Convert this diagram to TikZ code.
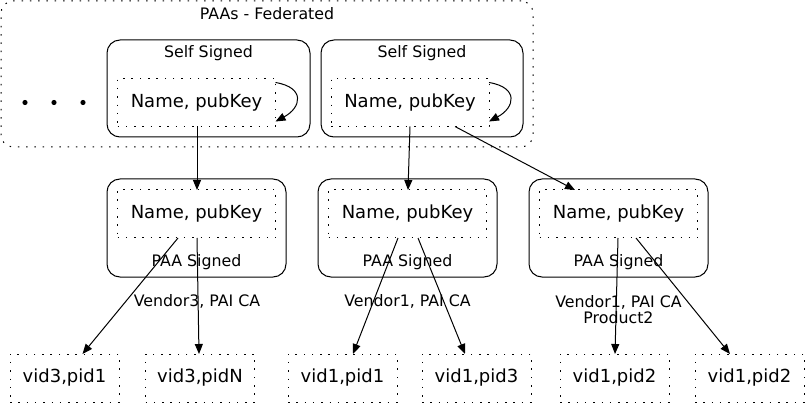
\documentclass[tikz,border=0pt]{standalone}
\usepackage{fontspec}
\setmainfont{DejaVu Sans}
\usetikzlibrary{arrows.meta}
\begin{document}
\begin{tikzpicture}[x=1pt,y=-1pt,
  every node/.style={inner sep=0pt, outer sep=0pt},
  dotbox/.style={draw, line width=1pt, dash pattern=on 1.5pt off 6.8pt},
  fedbox/.style={dotbox, rounded corners=12pt},
  solidbox/.style={draw, line width=1pt, rounded corners=13pt},
  keybox/.style={dotbox, minimum width=158pt, minimum height=48pt, font=\fontsize{18}{20}\selectfont},
  leafbox/.style={dotbox, minimum width=109pt, minimum height=48pt, font=\fontsize{18}{20}\selectfont},
  lbl/.style={font=\fontsize{15.8}{17.5}\selectfont, align=center},
  arr/.style={line width=1pt, -{Triangle[length=10pt,width=8pt]}}
]
\useasboundingbox (0,0) rectangle (805,403);

% outer federated cluster
\node[fedbox, minimum width=532pt, minimum height=146pt] (fed) at (267,74) {};
\node[lbl] (fedl) at (267,13.5) {PAAs - Federated};

% dots
\fill (25,102.5) circle (2.6pt);
\fill (54,102.5) circle (2.6pt);
\fill (83,102.5) circle (2.6pt);

% self signed boxes
\node[solidbox, minimum width=203pt, minimum height=97pt] (s1) at (208.5,88.5) {};
\node[lbl] (s1l) at (208.5,53) {Self Signed};
\node[keybox] (k1) at (196.5,102.5) {Name, pubKey};

\node[solidbox, minimum width=202pt, minimum height=97pt] (s2) at (422,88.5) {};
\node[lbl] (s2l) at (422,53) {Self Signed};
\node[keybox] (k2) at (410,102.5) {Name, pubKey};

% self loops
\draw[arr] ([yshift=-4pt]k1.north east) .. controls +(30,5) and +(26,-14) .. ([yshift=5pt]k1.south east);
\draw[arr] ([yshift=-4pt]k2.north east) .. controls +(30,5) and +(26,-14) .. ([yshift=5pt]k2.south east);

% PAA signed boxes
\foreach \n/\cx in {1/196.5, 2/407.5, 3/618.5}{
  \node[solidbox, minimum width=179pt, minimum height=98pt] (p\n) at (\cx,228) {};
  \node[lbl] (p\n l) at (\cx,262) {PAA Signed};
  \node[keybox] (m\n) at (\cx,214) {Name, pubKey};
}

% labels
\node[lbl] (v1) at (197,301) {Vendor3, PAI CA};
\node[lbl] (v2) at (407.5,301) {Vendor1, PAI CA};
\node[lbl] (v3) at (618.5,309.5) {Vendor1, PAI CA\\[-1.5pt]Product2};

% leaves
\node[leafbox] (b1) at (64.5,378) {vid3,pid1};
\node[leafbox] (b2) at (200,378) {vid3,pidN};
\node[leafbox] (b3) at (342.5,378) {vid1,pid1};
\node[leafbox] (b4) at (476.5,378) {vid1,pid3};
\node[leafbox] (b5) at (614.5,378) {vid1,pid2};
\node[leafbox] (b6) at (749.5,378) {vid1,pid2};

% connectors
\draw[arr] ([xshift=0.5pt]k1.south) -- ([xshift=0.5pt]m1.north);
\draw[arr] (k2.south) -- ([xshift=0.5pt]m2.north);
\draw[arr] ([xshift=45pt]k2.south) -- ([xshift=-43.5pt]m3.north);

\draw[arr] ([xshift=-18.5pt]m1.south) -- ([xshift=18pt]b1.north);
\draw[arr] ([xshift=0.5pt]m1.south) -- ([xshift=-1pt]b2.north);
\draw[arr] ([xshift=-9.5pt]m2.south) -- ([xshift=10.5pt]b3.north);
\draw[arr] ([xshift=10.5pt]m2.south) -- ([xshift=-11.5pt]b4.north);
\draw[arr] ([xshift=-0.5pt]m3.south) -- ([xshift=0.5pt]b5.north);
\draw[arr] ([xshift=17.5pt]m3.south) -- ([xshift=-19.5pt]b6.north);
\end{tikzpicture}
\end{document}
